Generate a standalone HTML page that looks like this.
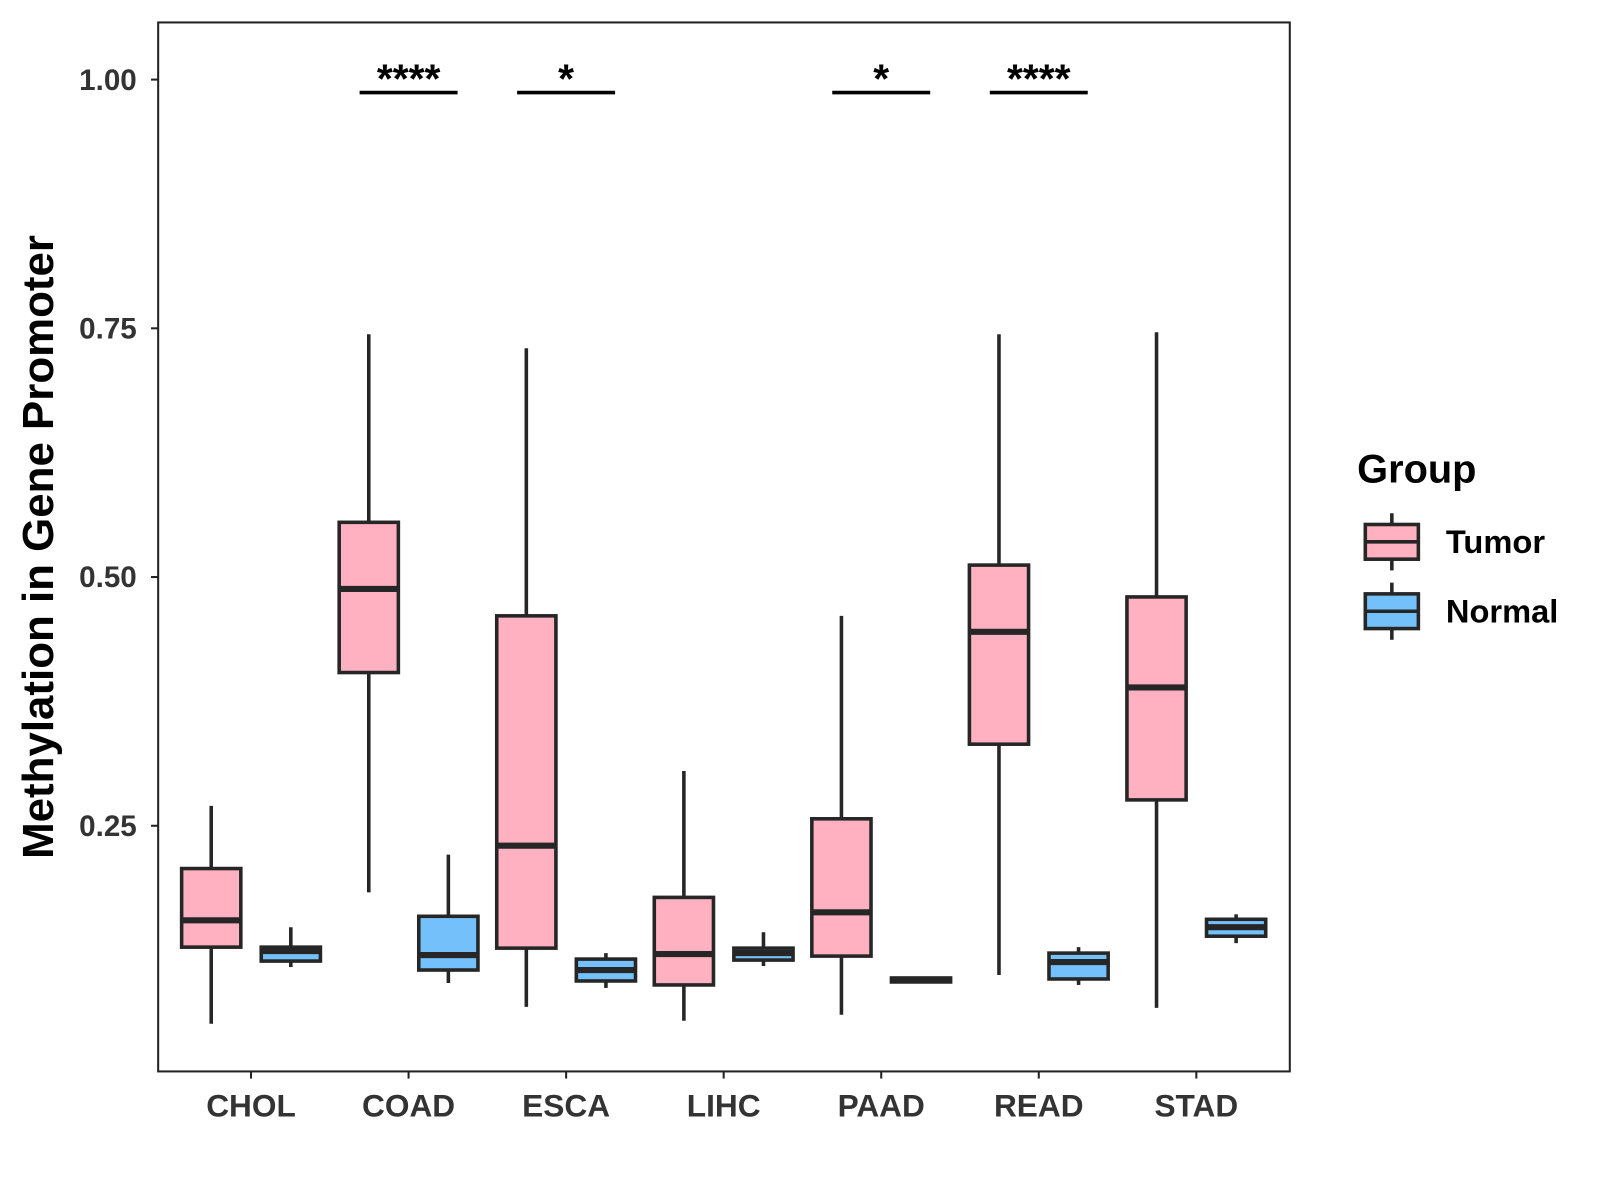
<!DOCTYPE html>
<html><head><meta charset="utf-8"><style>
html,body{margin:0;padding:0;background:#fff;}
svg{display:block;font-family:"Liberation Sans",Arial,sans-serif;}
</style></head><body>
<svg id="chart" width="1600" height="1200" viewBox="0 0 1568 1176">
<rect x="155" y="22" width="1109" height="1028" fill="#fff" stroke="#222" stroke-width="2"/>
<g id="marks"></g>
<text x="52" y="536" transform="rotate(-90 52 536)" text-anchor="middle" font-size="43" font-weight="bold" fill="#000">Methylation in Gene Promoter</text>
<g>
<text x="1330" y="473" font-size="39" font-weight="bold" fill="#000">Group</text>
<g>
<line x1="1364" y1="503" x2="1364" y2="559" stroke="#262626" stroke-width="3.5"/>
<rect x="1338" y="514" width="52" height="34" fill="#FFB0C1" stroke="#262626" stroke-width="3.5"/>
<line x1="1338" y1="531" x2="1390" y2="531" stroke="#262626" stroke-width="3.5"/>
<text x="1417" y="542" font-size="32" font-weight="bold" fill="#000">Tumor</text></g>
<g>
<line x1="1364" y1="571" x2="1364" y2="627" stroke="#262626" stroke-width="3.5"/>
<rect x="1338" y="582" width="52" height="34" fill="#74C0FA" stroke="#262626" stroke-width="3.5"/>
<line x1="1338" y1="599" x2="1390" y2="599" stroke="#262626" stroke-width="3.5"/>
<text x="1417" y="610" font-size="32" font-weight="bold" fill="#000">Normal</text></g>
</g>
</svg>
<script>
const categories=["CHOL","COAD","ESCA","LIHC","PAAD","READ","STAD"];
// [low, q1, median, q3, high]
const tumorStats=[[0.051,0.128,0.155,0.207,0.270],[0.183,0.404,0.488,0.555,0.744],[0.068,0.127,0.230,0.461,0.730],[0.054,0.090,0.121,0.178,0.305],[0.060,0.119,0.163,0.257,0.461],[0.100,0.332,0.445,0.512,0.744],[0.067,0.276,0.389,0.480,0.746]];
const normalStats=[[0.108,0.114,0.124,0.128,0.148],[0.092,0.105,0.120,0.159,0.221],[0.087,0.094,0.105,0.116,0.122],[0.109,0.115,0.122,0.127,0.143],[0.092,0.093,0.095,0.097,0.098],[0.090,0.096,0.113,0.122,0.128],[0.132,0.139,0.148,0.156,0.161]];
const yTicks=[0.25,0.50,0.75,1.00];
const yTickLabels=["0.25","0.50","0.75","1.00"];
const sigCategories=["COAD","ESCA","PAAD","READ"];
const sigLabels=["****","*","*","****"];
const sigLevel=0.988;

const NS="http://www.w3.org/2000/svg";
const g=document.getElementById('marks');
const y=v=>78+(1-v)*975;
const x=i=>246+i*154.4;
function mk(t,a,p){const e=document.createElementNS(NS,t);for(const k in a)e.setAttribute(k,a[k]);(p||g).appendChild(e);return e;}

yTicks.forEach((v,i)=>{
  const t=mk('line',{x1:148,x2:155,y1:y(v),y2:y(v),stroke:'#222','stroke-width':2});
  
  
  const l=mk('text',{x:134,y:y(v)+10,'text-anchor':'end','font-size':29,'font-weight':'bold',fill:'#333'});
  l.textContent=yTickLabels[i];
  
  
});
categories.forEach((c,i)=>{
  const t=mk('line',{x1:x(i),x2:x(i),y1:1050,y2:1057,stroke:'#222','stroke-width':2});
  
  
  const l=mk('text',{x:x(i),y:1094,'text-anchor':'middle','font-size':31,'font-weight':'bold',fill:'#333'});
  l.textContent=c;
  
  
});
function box(cx,s,fill,name){
  const bg=mk('g',{});
  
  
  const w=29;
  mk('line',{x1:cx,x2:cx,y1:y(s[4]),y2:y(s[0]),stroke:'#262626','stroke-width':3.5},bg);
  mk('rect',{x:cx-w,y:y(s[3]),width:2*w,height:Math.max(y(s[1])-y(s[3]),1),fill:fill,stroke:'#262626','stroke-width':3.5},bg);
  mk('line',{x1:cx-w,x2:cx+w,y1:y(s[2]),y2:y(s[2]),stroke:'#262626','stroke-width':6},bg);
}
categories.forEach((c,i)=>{
  box(x(i)-39,tumorStats[i],'#FFB0C1','box-tumor-'+c.toLowerCase());
  box(x(i)+39,normalStats[i],'#74C0FA','box-normal-'+c.toLowerCase());
});
sigCategories.forEach((c,k)=>{
  const i=categories.indexOf(c);
  const l=mk('line',{x1:x(i)-48,x2:x(i)+48,y1:y(sigLevel)+1,y2:y(sigLevel)+1,stroke:'#000','stroke-width':3.5});
  
  
  const t=mk('text',{x:x(i),y:y(sigLevel)+1,'text-anchor':'middle','font-size':40,'font-weight':'bold',fill:'#000'});
  t.textContent=sigLabels[k];
  
  
});
</script>
</body></html>
